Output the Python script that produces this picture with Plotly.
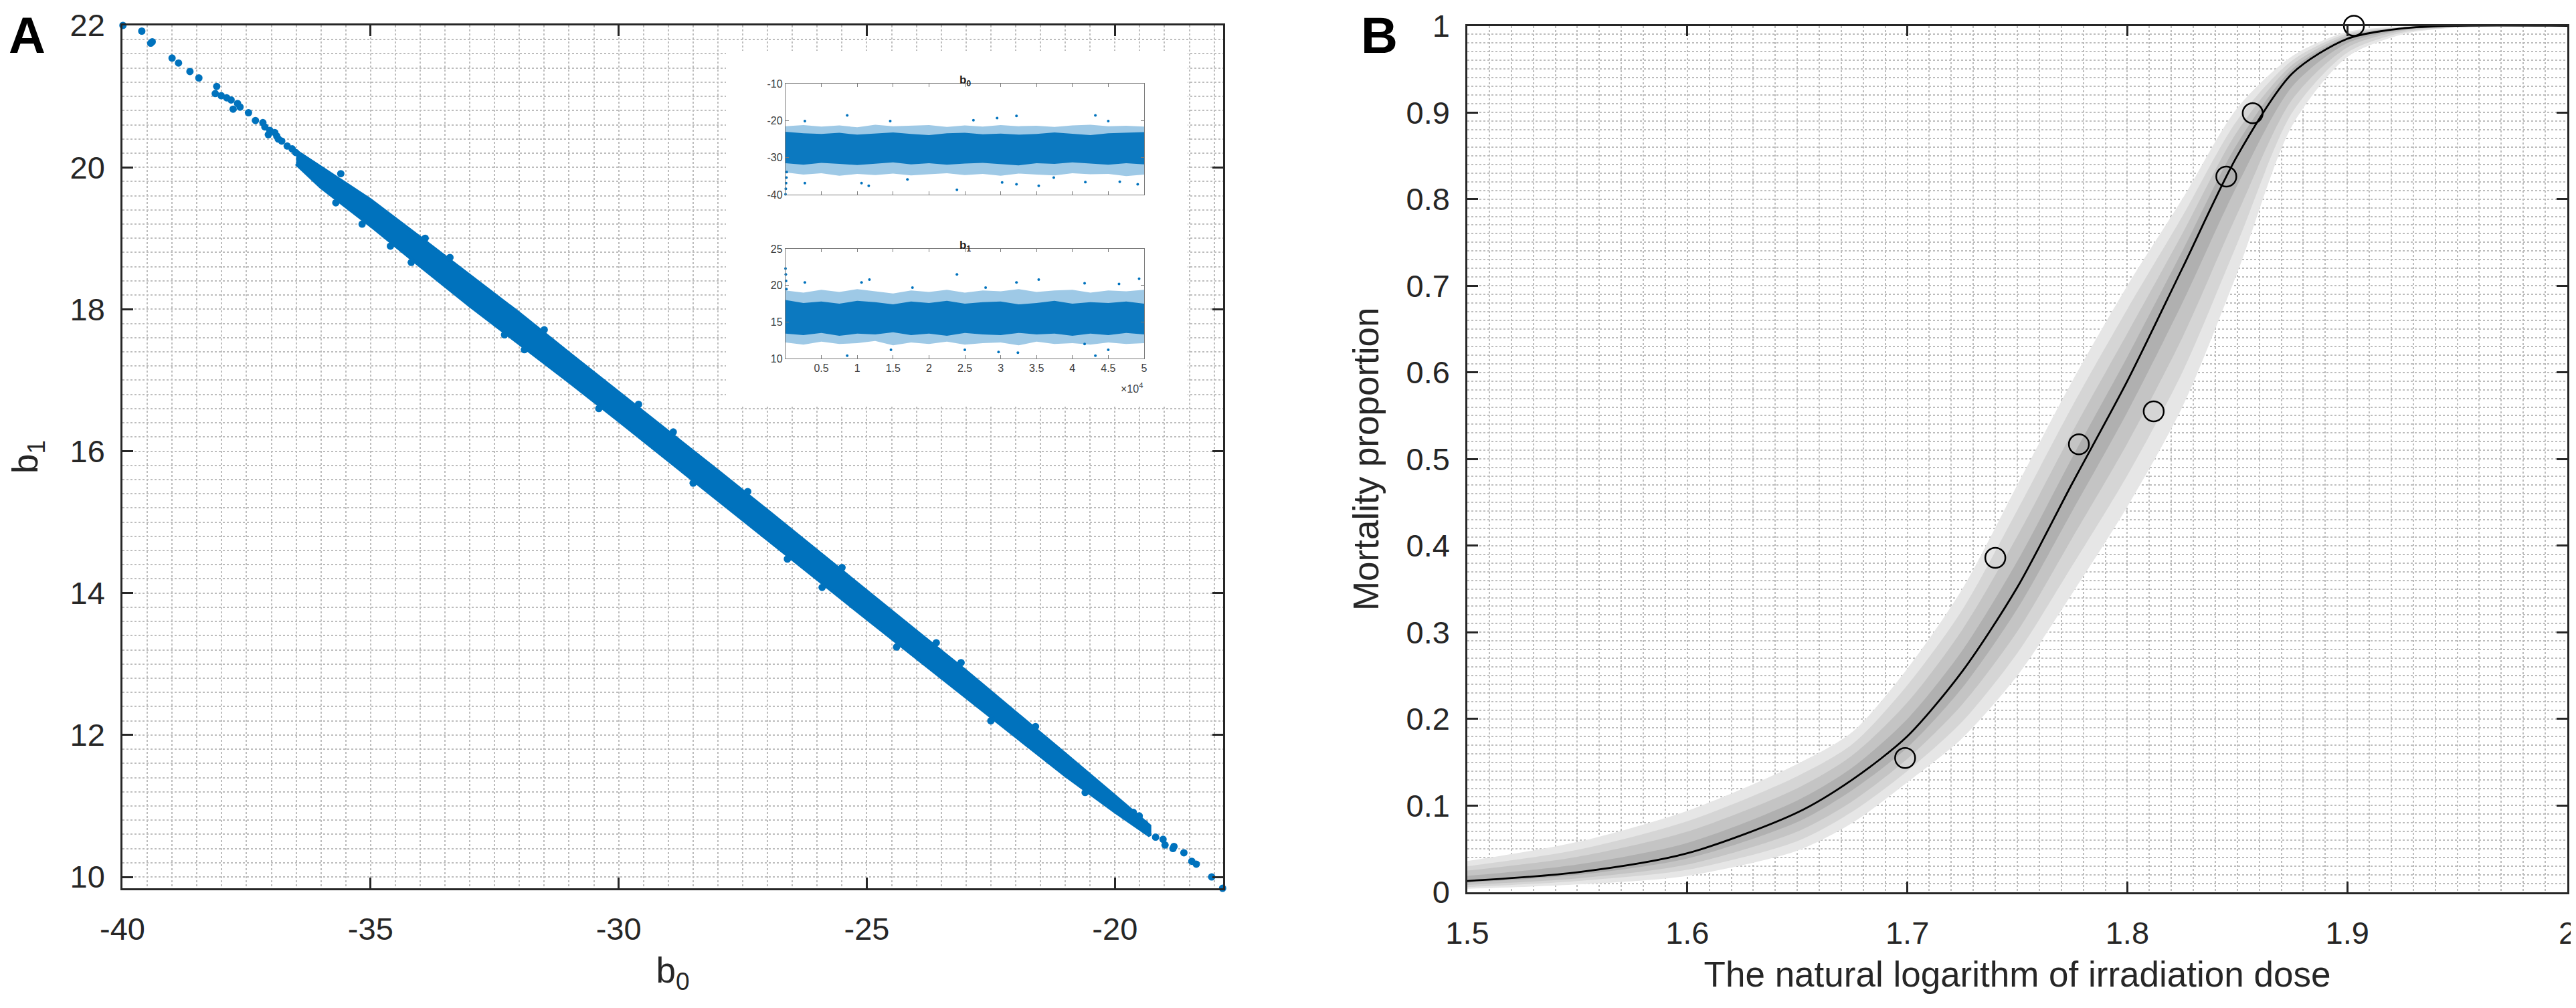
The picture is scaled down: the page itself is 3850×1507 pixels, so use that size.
import plotly.graph_objects as go

W, H = 3850, 1507
FONT = "Liberation Sans, Arial, Helvetica, sans-serif"
BLUE = "#0072BD"
INK = "#262626"
GRID = "#bdbdbd"

# ---------------- panel A : posterior samples (b0, b1) ----------------
band_b0 = [-36.5, -36.0, -35.0, -34.0, -33.0, -32.0, -31.0, -30.0, -29.0, -28.0,
           -27.0, -26.0, -25.0, -24.0, -23.0, -22.0, -21.0, -20.0, -19.3]
band_b1_upper = [20.23, 20.00, 19.54, 19.01, 18.47, 17.94, 17.38, 16.83, 16.28, 15.72,
                 15.16, 14.59, 14.02, 13.46, 12.90, 12.32, 11.73, 11.14, 10.72]
band_b1_lower = [20.05, 19.72, 19.18, 18.61, 18.05, 17.52, 16.98, 16.43, 15.88, 15.32,
                 14.76, 14.20, 13.64, 13.08, 12.53, 11.98, 11.43, 10.92, 10.58]

sparse_b0 = [-39.99, -39.61, -39.43, -39.40, -39.00, -38.87, -38.64, -38.46,
             -38.10, -38.13, -38.01, -37.90, -37.81, -37.68, -37.77, -37.63, -37.46, -37.32,
             -37.17, -37.13, -37.03, -36.93, -36.86, -36.79, -36.68, -36.58, -36.51, -36.89, -37.06,
             -35.70, -35.17, -34.18,
             -19.82, -19.63, -19.51, -19.40, -19.18, -19.03, -18.99, -18.81, -18.83, -18.61,
             -18.45, -18.36, -18.05, -17.83]
sparse_b1 = [22.00, 21.92, 21.75, 21.77, 21.54, 21.47, 21.35, 21.26,
             21.14, 21.04, 21.01, 20.98, 20.95, 20.90, 20.82, 20.85, 20.77, 20.66,
             20.63, 20.57, 20.52, 20.49, 20.40, 20.37, 20.30, 20.26, 20.21, 20.44, 20.46,
             19.50, 19.20, 18.66,
             10.99, 10.91, 10.86, 10.75, 10.56, 10.53, 10.45, 10.43, 10.40, 10.34,
             10.22, 10.18, 10.00, 9.84]

edge_b0 = [-35.6, -34.6, -33.9, -33.4, -32.3, -31.9, -31.5, -30.4, -29.6, -28.9, -28.5,
           -27.4, -26.6, -25.9, -25.5, -24.4, -23.6, -23.1, -22.5, -21.6, -20.6]
edge_b1 = [19.91, 18.89, 19.00, 18.73, 17.64, 17.43, 17.71, 16.60, 16.66, 16.27, 15.55,
           15.43, 14.48, 14.08, 14.36, 13.24, 13.30, 13.02, 12.20, 12.12, 11.19]

x_ticks_a = [-40, -35, -30, -25, -20]
x_labels_a = ["-40", "-35", "-30", "-25", "-20"]
y_ticks_a = [10, 12, 14, 16, 18, 20, 22]

# ---------------- inset : MCMC traces ----------------
trace_iter = [0, 2500, 5000, 7500, 10000, 12500, 15000, 17500, 20000, 22500, 25000,
              27500, 30000, 32500, 35000, 37500, 40000, 42500, 45000, 47500, 50000]
b0_core_hi = [-23.0, -23.4, -23.6, -23.3, -23.8, -23.5, -23.2, -23.6, -23.9, -23.4, -23.3,
              -23.7, -23.5, -23.8, -23.6, -23.2, -23.5, -23.9, -23.4, -23.3, -23.1]
b0_core_lo = [-31.5, -31.9, -31.4, -31.7, -32.0, -31.6, -31.3, -31.8, -31.5, -31.9, -31.6,
              -31.4, -31.8, -32.1, -31.5, -31.7, -31.3, -31.6, -31.9, -31.5, -31.8]
b0_spread_hi = [-21.5, -21.2, -21.6, -21.3, -21.8, -21.1, -21.5, -21.4, -21.2, -21.7, -21.3,
                -21.6, -21.2, -21.5, -21.4, -21.7, -21.3, -21.1, -21.5, -21.4, -21.6]
b0_spread_lo = [-34.0, -34.6, -34.2, -34.9, -34.4, -34.7, -34.3, -34.8, -34.5, -34.2, -34.7,
                -34.4, -34.9, -34.3, -34.6, -34.8, -34.2, -34.5, -34.4, -35.0, -34.6]
b1_core_hi = [18.0, 17.6, 17.8, 17.5, 17.9, 17.7, 17.4, 17.8, 17.6, 17.9, 17.5,
              17.7, 17.8, 17.4, 17.6, 17.9, 17.5, 17.7, 17.6, 17.8, 17.5]
b1_core_lo = [13.4, 13.2, 13.5, 13.1, 13.4, 13.3, 13.6, 13.2, 13.4, 13.1, 13.5,
              13.3, 13.2, 13.5, 13.3, 13.4, 13.1, 13.4, 13.2, 13.5, 13.3]
b1_spread_hi = [19.3, 19.0, 19.4, 19.1, 19.5, 19.2, 18.9, 19.3, 19.1, 19.4, 19.0,
                19.3, 19.2, 19.5, 19.1, 19.3, 19.4, 19.0, 19.3, 19.2, 19.4]
b1_spread_lo = [12.2, 11.9, 12.3, 12.0, 12.1, 12.4, 11.8, 12.2, 12.0, 12.3, 11.9,
                12.1, 12.2, 11.8, 12.3, 12.0, 12.1, 11.9, 12.2, 12.0, 12.1]

b0_out_iter = [0, 40, 80, 130, 170, 8600, 14600, 23900, 29500, 32200, 43200, 10600, 11600,
               2700, 35300, 32200, 41800, 46600, 49100, 17000, 30200, 45000, 26200, 2700, 37400]
b0_out_val = [-39.9, -38.4, -36.9, -35.4, -33.9, -18.6, -20.1, -38.7, -19.3, -18.7, -18.6,
              -36.9, -37.6, -36.9, -37.6, -37.2, -36.6, -36.5, -37.2, -35.9, -36.7,
              -20.1, -19.9, -20.1, -35.4]
b1_out_iter = [0, 40, 80, 130, 2700, 11700, 10600, 23900, 32200, 35300, 46500, 49300,
               8600, 43200, 32400, 29700, 41700, 14700, 25000, 45000, 41700, 17700, 27900]
b1_out_val = [22.3, 21.5, 20.6, 19.5, 20.4, 20.8, 20.4, 21.5, 20.4, 20.8, 20.2, 20.9,
              10.4, 10.4, 10.8, 10.9, 12.0, 11.2, 11.2, 11.2, 20.3, 19.7, 19.7]

inset_ticks = [5000, 10000, 15000, 20000, 25000, 30000, 35000, 40000, 45000, 50000]
inset_labels = ["0.5", "1", "1.5", "2", "2.5", "3", "3.5", "4", "4.5", "5"]

# ---------------- panel B : dose-response ----------------
dose = [1.50, 1.55, 1.60, 1.65, 1.675, 1.70, 1.725, 1.75, 1.775, 1.80, 1.825,
        1.85, 1.875, 1.90, 1.925, 1.95, 2.00]
fit = [0.013, 0.023, 0.045, 0.092, 0.130, 0.180, 0.255, 0.352, 0.472, 0.590, 0.720,
       0.850, 0.945, 0.985, 0.997, 1.000, 1.000]
ci4_hi = [0.036, 0.058, 0.094, 0.148, 0.185, 0.258, 0.350, 0.470, 0.590, 0.700, 0.800,
          0.905, 0.965, 0.993, 0.999, 1.000, 1.000]
ci4_lo = [0.004, 0.009, 0.019, 0.048, 0.080, 0.127, 0.178, 0.250, 0.345, 0.445, 0.560,
          0.715, 0.885, 0.964, 0.990, 0.998, 1.000]
ci3_hi = [0.030, 0.049, 0.082, 0.134, 0.171, 0.239, 0.326, 0.441, 0.561, 0.673, 0.780,
          0.891, 0.960, 0.991, 0.998, 1.000, 1.000]
ci3_lo = [0.006, 0.013, 0.026, 0.059, 0.093, 0.140, 0.197, 0.276, 0.377, 0.481, 0.600,
          0.749, 0.900, 0.969, 0.992, 0.998, 1.000]
ci2_hi = [0.025, 0.041, 0.070, 0.120, 0.158, 0.219, 0.303, 0.411, 0.531, 0.645, 0.760,
          0.878, 0.955, 0.989, 0.998, 1.000, 1.000]
ci2_lo = [0.0085, 0.016, 0.032, 0.070, 0.105, 0.154, 0.217, 0.301, 0.409, 0.518, 0.640,
          0.783, 0.915, 0.975, 0.994, 0.999, 1.000]
ci1_hi = [0.019, 0.032, 0.057, 0.106, 0.144, 0.200, 0.279, 0.382, 0.502, 0.618, 0.740,
          0.864, 0.950, 0.987, 0.998, 1.000, 1.000]
ci1_lo = [0.011, 0.020, 0.039, 0.081, 0.118, 0.167, 0.236, 0.327, 0.440, 0.554, 0.680,
          0.816, 0.930, 0.980, 0.995, 1.000, 1.000]

obs_dose = [1.699, 1.740, 1.778, 1.812, 1.845, 1.857, 1.903]
obs_mort = [0.155, 0.386, 0.517, 0.555, 0.826, 0.899, 1.000]


def fx(px):
    return px / W


def fy(py):
    return 1 - py / H


fig = go.Figure()

# panel A
fig.add_trace(go.Scatter(x=band_b0 + band_b0[::-1], y=band_b1_upper + band_b1_lower[::-1],
                         fill="toself", fillcolor=BLUE, mode="lines",
                         line=dict(color=BLUE, width=5), xaxis="x", yaxis="y",
                         hoverinfo="skip"))
fig.add_trace(go.Scatter(x=edge_b0, y=edge_b1, mode="markers",
                         marker=dict(color=BLUE, size=11), xaxis="x", yaxis="y"))
fig.add_trace(go.Scatter(x=sparse_b0, y=sparse_b1, mode="markers", cliponaxis=False,
                         marker=dict(color=BLUE, size=11), xaxis="x", yaxis="y"))

# white panel behind the inset (own hidden subplot, drawn over panel A's grid)
fig.add_trace(go.Scatter(x=[0, 1, 1, 0], y=[0, 0, 1, 1], fill="toself",
                         fillcolor="white", mode="lines", line=dict(width=0),
                         xaxis="x3", yaxis="y3", hoverinfo="skip"))


def trace_band(xa, ya, it, hi, lo, color):
    fig.add_trace(go.Scatter(x=it + it[::-1], y=hi + lo[::-1], fill="toself",
                             fillcolor=color, mode="lines", line=dict(width=0),
                             xaxis=xa, yaxis=ya, hoverinfo="skip"))


trace_band("x4", "y4", trace_iter, b0_spread_hi, b0_spread_lo, "rgba(0,114,189,0.38)")
trace_band("x4", "y4", trace_iter, b0_core_hi, b0_core_lo, "rgba(0,114,189,0.92)")
fig.add_trace(go.Scatter(x=b0_out_iter, y=b0_out_val, mode="markers", cliponaxis=False,
                         marker=dict(color=BLUE, size=4), xaxis="x4", yaxis="y4"))
trace_band("x5", "y5", trace_iter, b1_spread_hi, b1_spread_lo, "rgba(0,114,189,0.38)")
trace_band("x5", "y5", trace_iter, b1_core_hi, b1_core_lo, "rgba(0,114,189,0.92)")
fig.add_trace(go.Scatter(x=b1_out_iter, y=b1_out_val, mode="markers", cliponaxis=False,
                         marker=dict(color=BLUE, size=4), xaxis="x5", yaxis="y5"))

# panel B bands, lightest outside
for hi, lo, col in [(ci4_hi, ci4_lo, "#e6e6e6"), (ci3_hi, ci3_lo, "#d5d5d5"),
                    (ci2_hi, ci2_lo, "#c4c4c4"), (ci1_hi, ci1_lo, "#b0b0b0")]:
    fig.add_trace(go.Scatter(x=dose + dose[::-1], y=hi + lo[::-1], fill="toself",
                             fillcolor=col, mode="lines",
                             line=dict(width=0, shape="spline", smoothing=0.8),
                             xaxis="x2", yaxis="y2", hoverinfo="skip"))
fig.add_trace(go.Scatter(x=dose, y=fit, mode="lines",
                         line=dict(color="black", width=2.8, shape="spline", smoothing=0.8),
                         xaxis="x2", yaxis="y2"))
fig.add_trace(go.Scatter(x=obs_dose, y=obs_mort, mode="markers", cliponaxis=False,
                         marker=dict(symbol="circle-open", size=30, color="black",
                                     line=dict(width=2.5)),
                         xaxis="x2", yaxis="y2"))

main_axis = dict(showline=True, linecolor=INK, linewidth=2.5, mirror="ticks",
                 ticks="inside", ticklen=16, tickwidth=2.5, tickcolor=INK,
                 tickfont=dict(family=FONT, size=47, color=INK),
                 showgrid=True, gridcolor=GRID, griddash="dot", gridwidth=1.5,
                 zeroline=False, automargin=False)
inset_axis = dict(showline=True, linecolor="#7a7a7a", linewidth=1.3, mirror="ticks",
                  ticks="inside", ticklen=5, tickwidth=1.2, tickcolor="#7a7a7a",
                  tickfont=dict(family=FONT, size=16, color="#404040"),
                  showgrid=False, zeroline=False, automargin=False)
hidden = dict(visible=False, range=[0, 1], fixedrange=True, automargin=False)

fig.update_layout(
    template="none",
    width=W, height=H, margin=dict(l=0, r=0, t=0, b=0, autoexpand=False),
    paper_bgcolor="white", plot_bgcolor="white", showlegend=False,
    xaxis=dict(main_axis, domain=[fx(175), fx(1820)], anchor="y", range=[-40, -17.82],
               tickvals=x_ticks_a, ticktext=x_labels_a, ticklabelstandoff=18,
               minor=dict(dtick=0.5, showgrid=True, gridcolor=GRID, griddash="dot",
                          gridwidth=1.5),
               title=dict(text="b<sub>0</sub>", font=dict(family=FONT, size=53, color=INK),
                          standoff=18)),
    yaxis=dict(main_axis, domain=[fy(1320), fy(30)], anchor="x", range=[9.84, 22.0],
               tickvals=y_ticks_a, ticklabelstandoff=14,
               minor=dict(dtick=0.2, showgrid=True, gridcolor=GRID, griddash="dot",
                          gridwidth=1.5),
               title=dict(text="b<sub>1</sub>", font=dict(family=FONT, size=53, color=INK),
                          standoff=40)),
    xaxis2=dict(main_axis, domain=[fx(2185), fx(3829)], anchor="y2", range=[1.5, 2.0],
                dtick=0.1, ticklabelstandoff=18,
                minor=dict(dtick=0.01, showgrid=True, gridcolor=GRID, griddash="dot",
                           gridwidth=1.5),
                title=dict(text="The natural logarithm of irradiation dose",
                           font=dict(family=FONT, size=53, color=INK), standoff=18)),
    yaxis2=dict(main_axis, domain=[fy(1326), fy(30.5)], anchor="x2", range=[0, 1],
                dtick=0.1, ticklabelstandoff=14,
                minor=dict(dtick=0.01, showgrid=True, gridcolor=GRID, griddash="dot",
                           gridwidth=1.5),
                title=dict(text="Mortality proportion",
                           font=dict(family=FONT, size=53, color=INK), standoff=24)),
    xaxis3=dict(hidden, domain=[fx(1077), fx(1767)], anchor="y3"),
    yaxis3=dict(hidden, domain=[fy(598), fy(68)], anchor="x3"),
    xaxis4=dict(inset_axis, domain=[fx(1166), fx(1702)], anchor="y4", range=[0, 50000],
                tickvals=inset_ticks, showticklabels=False),
    yaxis4=dict(inset_axis, domain=[fy(283), fy(117)], anchor="x4", range=[-40, -10],
                tickvals=[-40, -30, -20, -10], ticktext=["-40", "-30", "-20", "-10"]),
    xaxis5=dict(inset_axis, domain=[fx(1166), fx(1702)], anchor="y5", range=[0, 50000],
                tickvals=inset_ticks, ticktext=inset_labels),
    yaxis5=dict(inset_axis, domain=[fy(528), fy(364)], anchor="x5", range=[10, 25],
                tickvals=[10, 15, 20, 25]),
)

ann_font = dict(family=FONT, color="black")
fig.add_annotation(text="<b>A</b>", x=fx(3), y=1, xref="paper", yref="paper",
                   xanchor="left", yanchor="top", showarrow=False,
                   font=dict(ann_font, size=76))
fig.add_annotation(text="<b>B</b>", x=fx(2024), y=1, xref="paper", yref="paper",
                   xanchor="left", yanchor="top", showarrow=False,
                   font=dict(ann_font, size=76))
fig.add_annotation(text="<b>b<sub>0</sub></b>", x=fx(1434), y=fy(100), xref="paper",
                   yref="paper", showarrow=False,
                   font=dict(family=FONT, size=17, color="#222222"))
fig.add_annotation(text="<b>b<sub>1</sub></b>", x=fx(1434), y=fy(347), xref="paper",
                   yref="paper", showarrow=False,
                   font=dict(family=FONT, size=17, color="#222222"))
fig.add_annotation(text="\u00d710<sup>4</sup>", x=fx(1702), y=fy(572), xref="paper",
                   yref="paper", xanchor="right", showarrow=False,
                   font=dict(family=FONT, size=16, color="#404040"))

fig.write_html("out.html")
